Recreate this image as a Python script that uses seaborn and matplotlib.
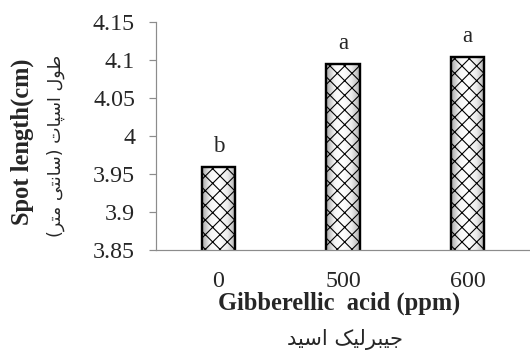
import numpy as np
import pandas as pd
import matplotlib
matplotlib.use("Agg")
import matplotlib.pyplot as plt
from matplotlib.colors import LinearSegmentedColormap
import seaborn as sns

# ---- data ----
categories = ["0", "500", "600"]
spot_length = [3.959, 4.095, 4.104]
letters = ["b", "a", "a"]
y_ticks = [3.85, 3.9, 3.95, 4.0, 4.05, 4.1, 4.15]
y_tick_labels = ["3.85", "3.9", "3.95", "4", "4.05", "4.1", "4.15"]
x_label = "Gibberellic  acid (ppm)"
x_label_fa = "جیبرلیک اسید"
y_label = "Spot length(cm)"
y_label_fa = "طول اسپات (سانتی متر)"

# ---- minimal Persian shaping (matplotlib has no complex text layout) ----
FORMS = {
    'ط': ('\uFEC1', '\uFEC2', '\uFEC3', '\uFEC4'),
    'ل': ('\uFEDD', '\uFEDE', '\uFEDF', '\uFEE0'),
    'س': ('\uFEB1', '\uFEB2', '\uFEB3', '\uFEB4'),
    'پ': ('\uFB56', '\uFB57', '\uFB58', '\uFB59'),
    'ت': ('\uFE95', '\uFE96', '\uFE97', '\uFE98'),
    'ن': ('\uFEE5', '\uFEE6', '\uFEE7', '\uFEE8'),
    'ی': ('\uFBFC', '\uFBFD', '\uFBFE', '\uFBFF'),
    'م': ('\uFEE1', '\uFEE2', '\uFEE3', '\uFEE4'),
    'ج': ('\uFE9D', '\uFE9E', '\uFE9F', '\uFEA0'),
    'ب': ('\uFE8F', '\uFE90', '\uFE91', '\uFE92'),
    'ک': ('\uFB8E', '\uFB8F', '\uFB90', '\uFB91'),
    'و': ('\uFEED', '\uFEEE', '\uFEED', '\uFEEE'),
    'ا': ('\uFE8D', '\uFE8E', '\uFE8D', '\uFE8E'),
    'ر': ('\uFEAD', '\uFEAE', '\uFEAD', '\uFEAE'),
    'د': ('\uFEA9', '\uFEAA', '\uFEA9', '\uFEAA'),
}
DUAL = set('طلسپتنیمجبک')


def shape_fa(s):
    out = []
    for i, c in enumerate(s):
        if c not in FORMS:
            out.append(c)
            continue
        prev = s[i - 1] if i > 0 else ''
        nxt = s[i + 1] if i + 1 < len(s) else ''
        jp = prev in DUAL
        jn = (c in DUAL) and (nxt in FORMS)
        f = FORMS[c]
        if jp and jn:
            out.append(f[3])
        elif jp:
            out.append(f[1])
        elif jn:
            out.append(f[2])
        else:
            out.append(f[0])
    vis = ''.join(reversed(out))
    return vis.translate(str.maketrans('()', ')('))


# ---- figure ----
DPI = 132
PX = 72.0 / DPI  # points per pixel
sns.set_style("white")
plt.rcParams['font.family'] = ['Liberation Serif', 'DejaVu Sans']
plt.rcParams['hatch.linewidth'] = 0.6

fig = plt.figure(figsize=(530 / DPI, 356 / DPI), dpi=DPI)
W, H = 530, 356
ax = fig.add_axes([156 / W, 1 - 250 / H, 374 / W, 228 / H])

df = pd.DataFrame({"ga": categories, "length": spot_length})
sns.barplot(data=df, x="ga", y="length", ax=ax, width=0.265,
            color="white", edgecolor="black", linewidth=2.4 * PX,
            order=categories)

ax.set_ylim(3.85, 4.15)
ax.set_xlim(-0.5, 2.5)

# gradient fill + crosshatch
cmap = LinearSegmentedColormap.from_list(
    "g", ["#a8a8a8", "#f6f6f6", "#ffffff", "#ececec", "#b0b0b0"])
grad = np.linspace(0, 1, 64).reshape(1, -1)
ylo, yhi = ax.get_ylim()
for p in list(ax.patches):
    x0 = p.get_x()
    x1 = x0 + p.get_width()
    top = p.get_y() + p.get_height()
    im = ax.imshow(grad, cmap=cmap, aspect="auto", extent=[x0, x1, ylo, top],
                   zorder=1.5, interpolation="bilinear")
    im.set_clip_path(p)
    p.set_facecolor("none")
    p.set_hatch("xxx")
    p.set_zorder(2)
ax.set_xlim(-0.5, 2.5)
ax.set_ylim(3.85, 4.15)

# significance letters
for i, (v, let) in enumerate(zip(spot_length, letters)):
    ax.annotate(let, (i, v), xytext=(0, 10 * PX), textcoords="offset points",
                ha="center", va="bottom", fontsize=23 * PX,
                family="Liberation Serif")

# axes styling
for s in ["top", "right"]:
    ax.spines[s].set_visible(False)
for s in ["left", "bottom"]:
    ax.spines[s].set_color("#8c8c8c")
    ax.spines[s].set_linewidth(1.2 * PX)
ax.set_yticks(y_ticks)
ax.set_yticklabels(y_tick_labels)
ax.tick_params(axis="y", which="both", left=True, length=7 * PX,
               width=1.2 * PX, color="#8c8c8c", pad=14 * PX,
               labelsize=24 * PX)
ax.tick_params(axis="x", length=0, pad=21 * PX, labelsize=24 * PX)
ax.set_xlabel("")
ax.set_ylabel("")


def fig_text(x, y, s, **kw):
    fig.text(x / W, 1 - y / H, s, ha="center", va="center", **kw)


fig_text(339, 303, x_label, fontsize=24.5 * PX, fontweight="bold",
         family="Liberation Serif")
fig_text(345, 339, shape_fa(x_label_fa), fontsize=21 * PX,
         family="DejaVu Sans")
fig_text(22, 142, y_label, fontsize=24.5 * PX, fontweight="bold",
         family="Liberation Serif", rotation=90)
fig_text(56, 146, shape_fa(y_label_fa), fontsize=17.5 * PX,
         family="DejaVu Sans", rotation=90)

fig.savefig("out.png", dpi=DPI, facecolor="white")
